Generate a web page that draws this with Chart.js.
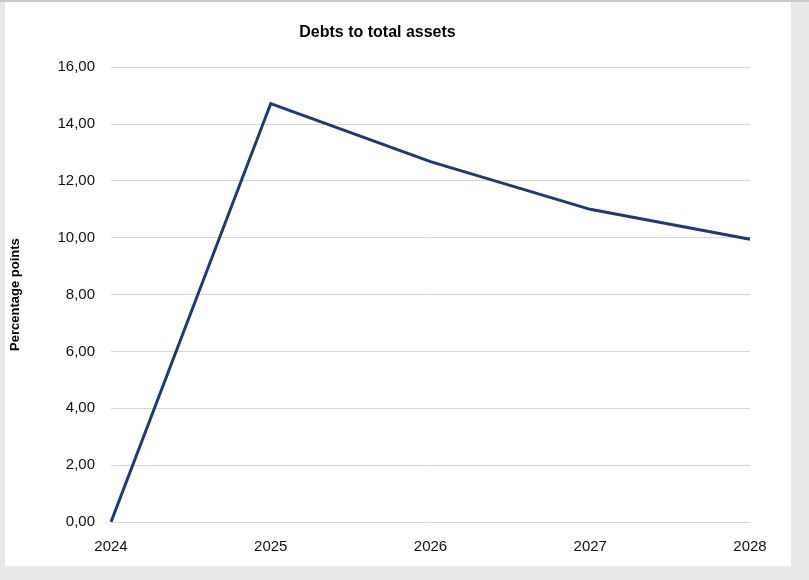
<!DOCTYPE html>
<html>
<head>
<meta charset="utf-8">
<script src="https://cdn.jsdelivr.net/npm/chart.js@4"></script>
<style>
  html, body { margin: 0; padding: 0; }
  body { width: 809px; height: 580px; background: #e8e8e8; position: relative; overflow: hidden; border-top: 2px solid #c8c8c8; box-sizing: border-box; }
  #box { position: absolute; left: 5px; top: 0; width: 786px; height: 564px; background: #fff; }
</style>
</head>
<body>
<div id="box"><canvas id="chart"></canvas></div>
<script>
// data
const years = ['2024', '2025', '2026', '2027', '2028'];
const debtsToAssets = [0, 14.72, 12.68, 11.0, 9.95];
const yTicks = [0, 2, 4, 6, 8, 10, 12, 14, 16];

const font = '"Liberation Sans", Arial, sans-serif';

new Chart(document.getElementById('chart'), {
    type: 'line',
    data: {
        labels: years,
        datasets: [{
            label: 'Debts to total assets',
            data: debtsToAssets,
            borderColor: '#1c3a78',
            borderWidth: 3,
            pointRadius: 0,
            tension: 0,
            fill: false
        }]
    },
    options: {
        responsive: true,
        maintainAspectRatio: false,
        animation: false,
        layout: { padding: { left: 0, right: 41, top: 0, bottom: 12 } },
        plugins: {
            legend: { display: false },
            tooltip: { enabled: false },
            title: {
                display: true,
                text: 'Debts to total assets',
                color: '#000',
                font: { family: font, size: 16, weight: 'bold' },
                padding: { top: 21, bottom: 25 }
            }
        },
        scales: {
            x: {
                offset: false,
                afterFit: scale => { scale.height = 32; },
                grid: { display: false, drawTicks: false },
                border: { display: false },
                ticks: {
                    color: '#111',
                    font: { family: font, size: 15 },
                    padding: 16,
                    maxRotation: 0
                }
            },
            y: {
                min: 0,
                max: 16,
                afterFit: scale => { scale.width = 106; },
                afterBuildTicks: scale => { scale.ticks = yTicks.map(v => ({ value: v })); },
                grid: { color: '#d6d6d6', lineWidth: 1, drawTicks: false },
                border: { display: false },
                ticks: {
                    color: '#111',
                    font: { family: font, size: 15 },
                    padding: 16,
                    callback: v => v.toFixed(2).replace('.', ',')
                },
                title: {
                    display: true,
                    text: 'Percentage points',
                    color: '#000',
                    font: { family: font, size: 13, weight: 'bold' },
                    padding: { top: 3, bottom: 0 }
                }
            }
        }
    }
});
</script>
</body>
</html>
